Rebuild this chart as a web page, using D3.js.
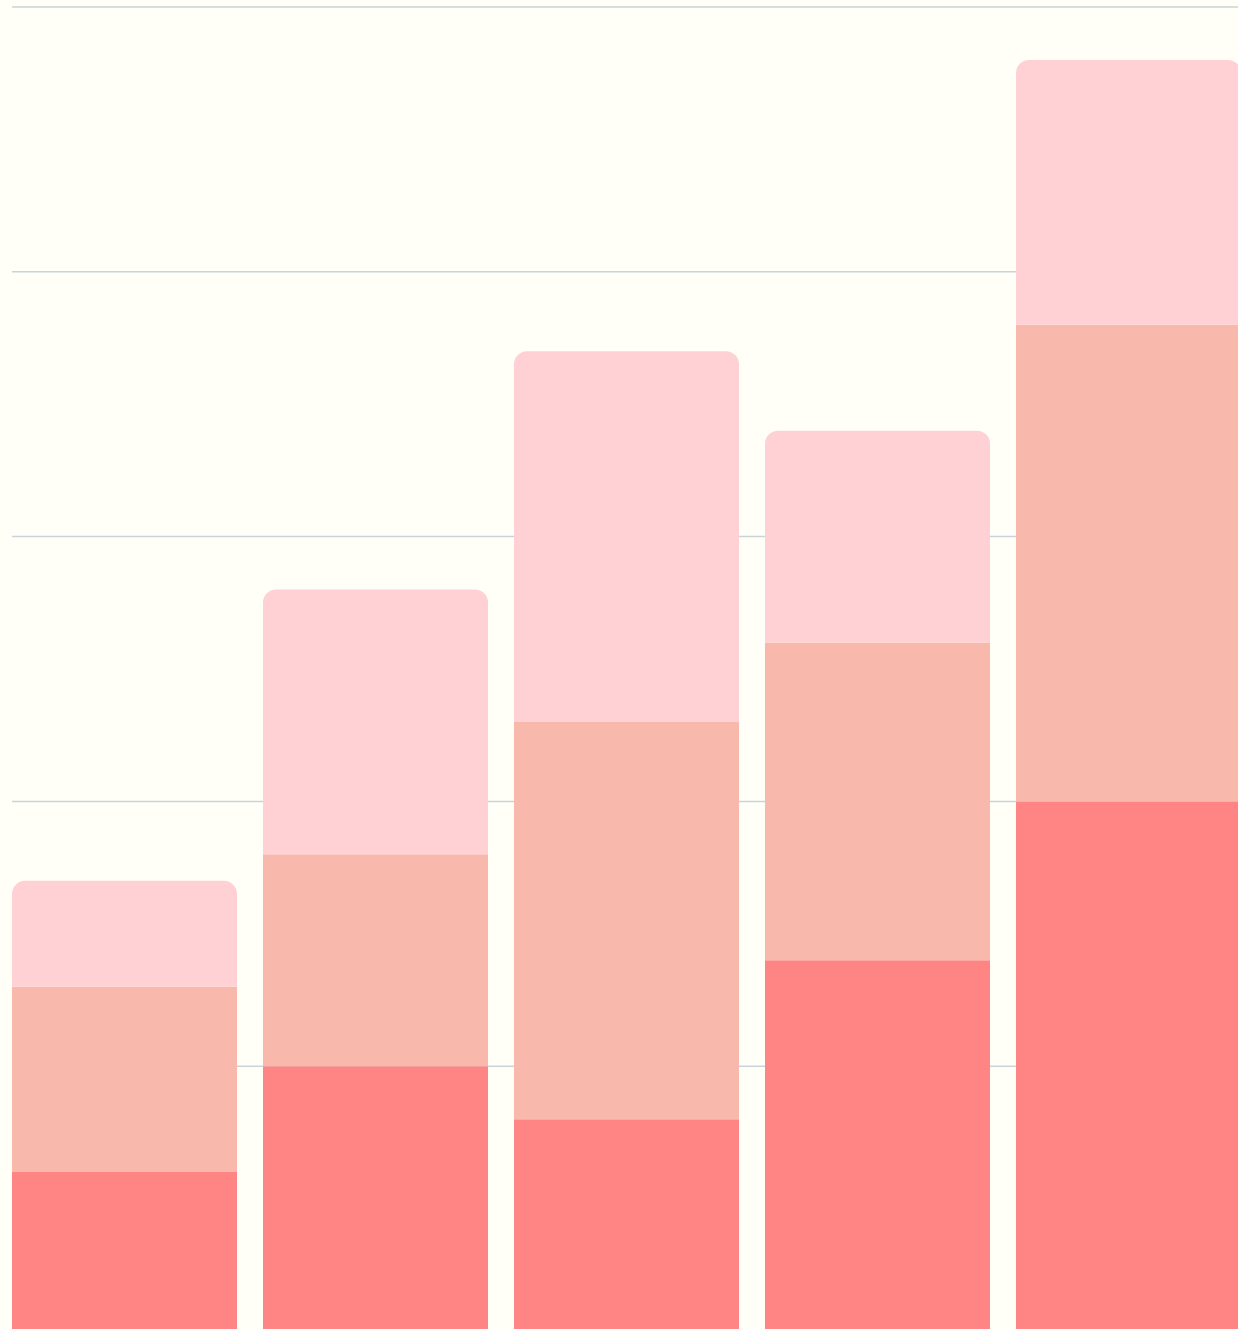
<!DOCTYPE html>
<html>
<head>
<meta charset="utf-8">
<script src="https://cdn.jsdelivr.net/npm/d3@7"></script>
<style>
  html, body { margin:0; padding:0; background:#fffff7; overflow:hidden; }
  svg { display:block; }
</style>
</head>
<body>
<svg id="chart" width="1238" height="1329"></svg>
<script>
// ===== data =====
const categories = ['A','B','C','D','E'];
const seriesKeys = ['low','mid','high'];
const low  = [6, 10, 8, 14, 20];
const mid  = [7, 8, 15, 12, 18];
const high = [4, 10, 14, 8, 10];
const gridTicks = [10, 20, 30, 40, 50];

const colors = {low:'#ff8584', mid:'#f8b9ac', high:'#ffd1d4'};

const svg = d3.select('#chart');
const M = {top:7, left:12};
const rows = categories.map((c,i)=>({cat:c, low:low[i], mid:mid[i], high:high[i]}));

const x = d3.scaleBand().domain(categories).range([M.left, M.left + 5*251 - 26]).paddingInner(0.1036).paddingOuter(0);
const y = d3.scaleLinear().domain([0, 50]).range([1331, M.top]);

// gridlines
svg.append('g').selectAll('line').data(gridTicks).join('line')
  .attr('x1', M.left).attr('x2', 1260)
  .attr('y1', d=>y(d)).attr('y2', d=>y(d))
  .attr('stroke', '#cad3db').attr('stroke-width', 1.5);

const stack = d3.stack().keys(seriesKeys)(rows);
const R = 13;

function segPath(x0, w, y0, y1, rounded){
  // y0 = bottom px, y1 = top px
  if(!rounded) return `M${x0},${y0}V${y1}H${x0+w}V${y0}Z`;
  return `M${x0},${y0}V${y1+R}A${R},${R} 0 0 1 ${x0+R},${y1}H${x0+w-R}A${R},${R} 0 0 1 ${x0+w},${y1+R}V${y0}Z`;
}

const gBars = svg.append('g');
stack.forEach((layer, li) => {
  gBars.append('g').attr('fill', colors[layer.key])
    .selectAll('path').data(layer).join('path')
    .attr('d', d => segPath(x(d.data.cat), x.bandwidth(), y(d[0]), y(d[1]), li === stack.length-1));
});
</script>
</body>
</html>
